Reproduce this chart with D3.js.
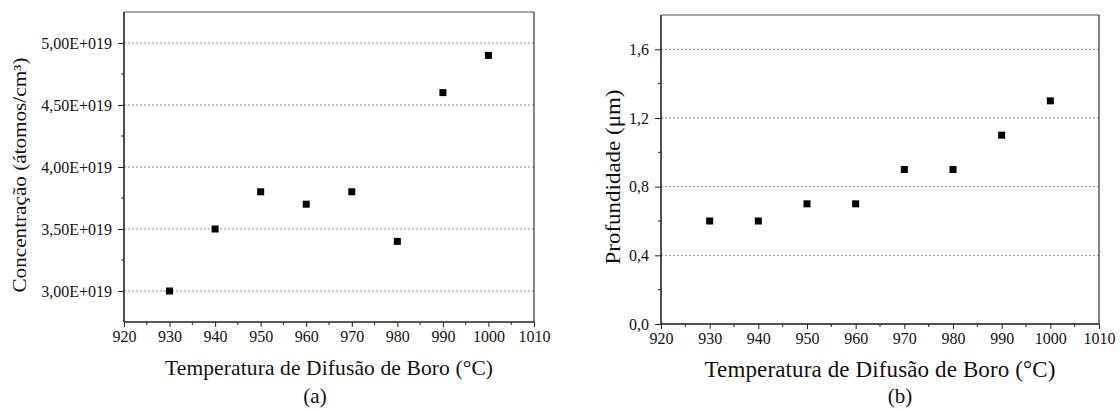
<!DOCTYPE html>
<html>
<head>
<meta charset="utf-8">
<script src="https://cdn.jsdelivr.net/npm/d3@7"></script>
<style>
  body { margin: 0; background: #fff; }
  svg text { font-family: "Liberation Serif", "Times New Roman", serif; fill: #111; }
  .axis text { font-size: 16px; }
</style>
</head>
<body>
<svg id="chart" width="1120" height="411"></svg>
<script>
// Data
const temperatures = [930, 940, 950, 960, 970, 980, 990, 1000];
const concentration = [3.00e19, 3.50e19, 3.80e19, 3.70e19, 3.80e19, 3.40e19, 4.60e19, 4.90e19];
const depth = [0.6, 0.6, 0.7, 0.7, 0.9, 0.9, 1.1, 1.3];

const xTicks = [920, 930, 940, 950, 960, 970, 980, 990, 1000, 1010];
const concTicks = [3.0e19, 3.5e19, 4.0e19, 4.5e19, 5.0e19];
const concTickLabels = ["3,00E+019", "3,50E+019", "4,00E+019", "4,50E+019", "5,00E+019"];
const depthTicks = [0, 0.4, 0.8, 1.2, 1.6];
const depthTickLabels = ["0,0", "0,4", "0,8", "1,2", "1,6"];

const svg = d3.select("#chart");

function drawPanel(p) {
  const g = svg.append("g");
  const x = d3.scaleLinear().domain([920, 1010]).range([p.left, p.right]);
  const y = d3.scaleLinear().domain(p.yDomain).range([p.bottom, p.top]);

  // dotted grid lines at major y ticks
  g.selectAll(".grid")
    .data(p.yTicks)
    .enter()
    .append("line")
    .attr("x1", p.left).attr("x2", p.right)
    .attr("y1", d => y(d)).attr("y2", d => y(d))
    .attr("stroke", "#8a8a8a")
    .attr("stroke-width", 1)
    .attr("stroke-dasharray", "2,2");

  // frame (top + right)
  g.append("line")
    .attr("x1", p.left).attr("x2", p.right)
    .attr("y1", p.top).attr("y2", p.top)
    .attr("stroke", "#555").attr("stroke-width", 1.2);
  g.append("line")
    .attr("x1", p.right).attr("x2", p.right)
    .attr("y1", p.top).attr("y2", p.bottom)
    .attr("stroke", "#333").attr("stroke-width", 1.2);

  // minor ticks
  const xMinor = d3.range(925, 1010, 10);
  g.selectAll(".xminor")
    .data(xMinor)
    .enter()
    .append("line")
    .attr("x1", d => x(d)).attr("x2", d => x(d))
    .attr("y1", p.bottom).attr("y2", p.bottom + 3)
    .attr("stroke", "#222");
  g.selectAll(".yminor")
    .data(p.yMinor)
    .enter()
    .append("line")
    .attr("x1", p.left - 3).attr("x2", p.left)
    .attr("y1", d => y(d)).attr("y2", d => y(d))
    .attr("stroke", "#222");

  // axes
  const xAxis = d3.axisBottom(x).tickValues(xTicks)
    .tickFormat(d3.format("d")).tickSize(5).tickPadding(4);
  const gx = g.append("g")
    .attr("class", "axis")
    .attr("transform", `translate(0,${p.bottom})`)
    .call(xAxis);
  const yAxis = d3.axisLeft(y).tickValues(p.yTicks)
    .tickFormat((d, i) => p.yTickLabels[i]).tickSize(6).tickPadding(6);
  const gy = g.append("g")
    .attr("class", "axis")
    .attr("transform", `translate(${p.left},0)`)
    .call(yAxis);

  [gx, gy].forEach(a => {
    a.attr("font-family", null).attr("font-size", null);
    a.select(".domain").attr("stroke", "#222").attr("stroke-width", 1.6);
    a.selectAll(".tick line").attr("stroke", "#222");
    a.selectAll(".tick text").attr("fill", "#111");
  });
  gx.select(".domain").attr("d", `M${p.left},0H${p.right}`);
  gy.select(".domain").attr("d", `M0,${p.bottom}V${p.top}`);

  // points
  g.selectAll(".pt")
    .data(temperatures.map((t, i) => [t, p.values[i]]))
    .enter()
    .append("rect")
    .attr("x", d => x(d[0]) - 3.5)
    .attr("y", d => y(d[1]) - 3.5)
    .attr("width", 7)
    .attr("height", 7)
    .attr("fill", "#000");

  // titles
  g.append("text")
    .attr("x", (p.left + p.right) / 2)
    .attr("y", p.xTitleY)
    .attr("text-anchor", "middle")
    .attr("textLength", p.xTitleLen)
    .style("font-size", p.xTitleSize + "px")
    .text("Temperatura de Difusão de Boro (°C)");

  g.append("text")
    .attr("transform", `translate(${p.yTitleX},${p.yTitleY}) rotate(-90)`)
    .attr("text-anchor", "middle")
    .attr("textLength", p.yTitleLen)
    .attr("lengthAdjust", "spacingAndGlyphs")
    .style("font-size", p.yTitleSize + "px")
    .text(p.yTitle);

  g.append("text")
    .attr("x", p.tagX)
    .attr("y", 403)
    .attr("text-anchor", "middle")
    .style("font-size", "21px")
    .text(p.tag);
}

drawPanel({
  left: 124, right: 534, top: 12, bottom: 322,
  yDomain: [2.75e19, 5.25e19],
  yTicks: concTicks, yTickLabels: concTickLabels,
  yMinor: [3.25e19, 3.75e19, 4.25e19, 4.75e19],
  values: concentration,
  yTitle: "Concentração (átomos/cm³)",
  yTitleX: 26, yTitleY: 175, yTitleLen: 235, yTitleSize: 18,
  xTitleY: 375, xTitleLen: 328, xTitleSize: 21.5,
  tag: "(a)", tagX: 315
});

drawPanel({
  left: 661, right: 1099, top: 15, bottom: 324,
  yDomain: [0, 1.8],
  yTicks: depthTicks, yTickLabels: depthTickLabels,
  yMinor: [0.2, 0.6, 1.0, 1.4],
  values: depth,
  yTitle: "Profundidade (μm)",
  yTitleX: 620, yTitleY: 177, yTitleLen: 175, yTitleSize: 20,
  xTitleY: 377, xTitleLen: 351, xTitleSize: 23,
  tag: "(b)", tagX: 900
});
</script>
</body>
</html>
